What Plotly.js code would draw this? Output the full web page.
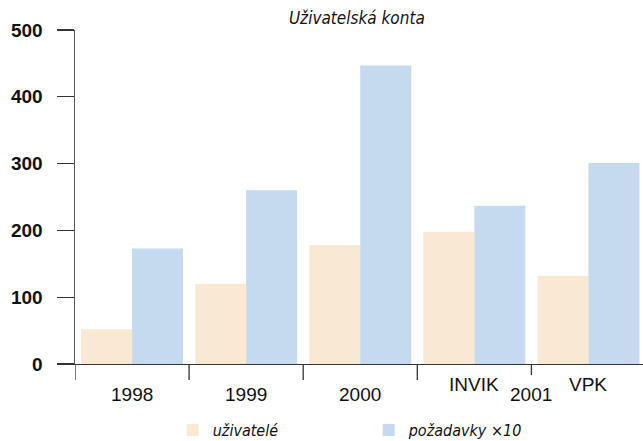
<!DOCTYPE html>
<html>
<head>
<meta charset="utf-8">
<script src="https://cdn.plot.ly/plotly-3.0.1.min.js"></script>
<style>html,body{margin:0;padding:0;background:#fff;}#chart{width:643px;height:441px;}</style>
</head>
<body>
<div id="chart"></div>
<script>
// ---- data ----
const categories = ["1998", "1999", "2000", "INVIK", "VPK"];
const uzivatele = [52, 120, 178, 198, 132];
const pozadavky = [173, 260, 447, 237, 301];
const seriesNames = ["uživatelé", "požadavky ×10"];
const yTicks = [0, 100, 200, 300, 400, 500];
const groupLabels = ["1998", "1999", "2000", "INVIK", "VPK", "2001"];

const FONT = "Liberation Sans, Arial, sans-serif";
const COND = "DejaVu Sans Condensed, Liberation Sans, sans-serif";
const plotH = 441 - 30 - 77;
const tickPx = 16;

const traces = [
  {type: "bar", name: seriesNames[0], x: categories, y: uzivatele,
   marker: {color: "#F9E9D2"}, hoverinfo: "none"},
  {type: "bar", name: seriesNames[1], x: categories, y: pozadavky,
   marker: {color: "#C6DAEF"}, hoverinfo: "none"}
];

// boundary ticks on the category axis
const shapes = [];
[-0.5, 0.5, 1.5, 2.5].forEach(b => shapes.push({
  type: "line", xref: "x", yref: "paper", x0: b, x1: b, y0: 0, y1: -tickPx / plotH,
  line: {color: "#333", width: 1.3}
}));
shapes.push({type: "line", xref: "x", yref: "paper", x0: 3.5, x1: 3.5, y0: 0, y1: -11 / plotH,
  line: {color: "#333", width: 1.3}});

const annotations = [];
const labelFont = {family: FONT, size: 19, color: "#111"};
for (let i = 0; i < 3; i++) {
  annotations.push({text: groupLabels[i], x: i, xref: "x", yref: "paper", y: 0,
    yanchor: "top", showarrow: false, yshift: -18, font: labelFont});
}
annotations.push({text: groupLabels[3], x: 3, xref: "x", yref: "paper", y: 0,
  yanchor: "top", showarrow: false, yshift: -8, font: labelFont});
annotations.push({text: groupLabels[4], x: 4, xref: "x", yref: "paper", y: 0,
  yanchor: "top", showarrow: false, yshift: -8, font: labelFont});
annotations.push({text: groupLabels[5], x: 3.5, xref: "x", yref: "paper", y: 0,
  yanchor: "top", showarrow: false, yshift: -18, font: labelFont});

const layout = {
  width: 643, height: 441,
  margin: {l: 75, r: 0, t: 30, b: 77, autoexpand: false},
  paper_bgcolor: "#fff", plot_bgcolor: "#fff",
  title: {text: "Uživatelská konta", x: 0.555, xanchor: "center", y: 0.958, yanchor: "middle",
    font: {family: COND, size: 17, style: "italic", color: "#111"}},
  barmode: "group", bargap: 0.106, bargroupgap: 0,
  xaxis: {type: "category", range: [-0.5, 4.478], showticklabels: false, ticks: "",
    showline: true, linecolor: "#333", linewidth: 1.3, showgrid: false, zeroline: false,
    fixedrange: true},
  yaxis: {range: [0, 500], tickvals: yTicks, ticks: "outside", ticklen: 17, tickwidth: 1.3,
    tickcolor: "#333", showline: true, linecolor: "#555", linewidth: 1.5,
    showgrid: false, zeroline: false, ticklabelstandoff: 10,
    tickfont: {family: FONT, size: 19, weight: "bold", color: "#111"}, fixedrange: true},
  showlegend: true,
  legend: {orientation: "h", x: 0.172, xanchor: "left", y: -(430 - 364) / plotH, yanchor: "middle",
    entrywidth: 151, entrywidthmode: "pixels", traceorder: "normal",
    font: {family: COND, size: 16, style: "italic", color: "#111"}},
  shapes: shapes,
  annotations: annotations
};

Plotly.newPlot("chart", traces, layout, {displayModeBar: false, staticPlot: true});
</script>
</body>
</html>
